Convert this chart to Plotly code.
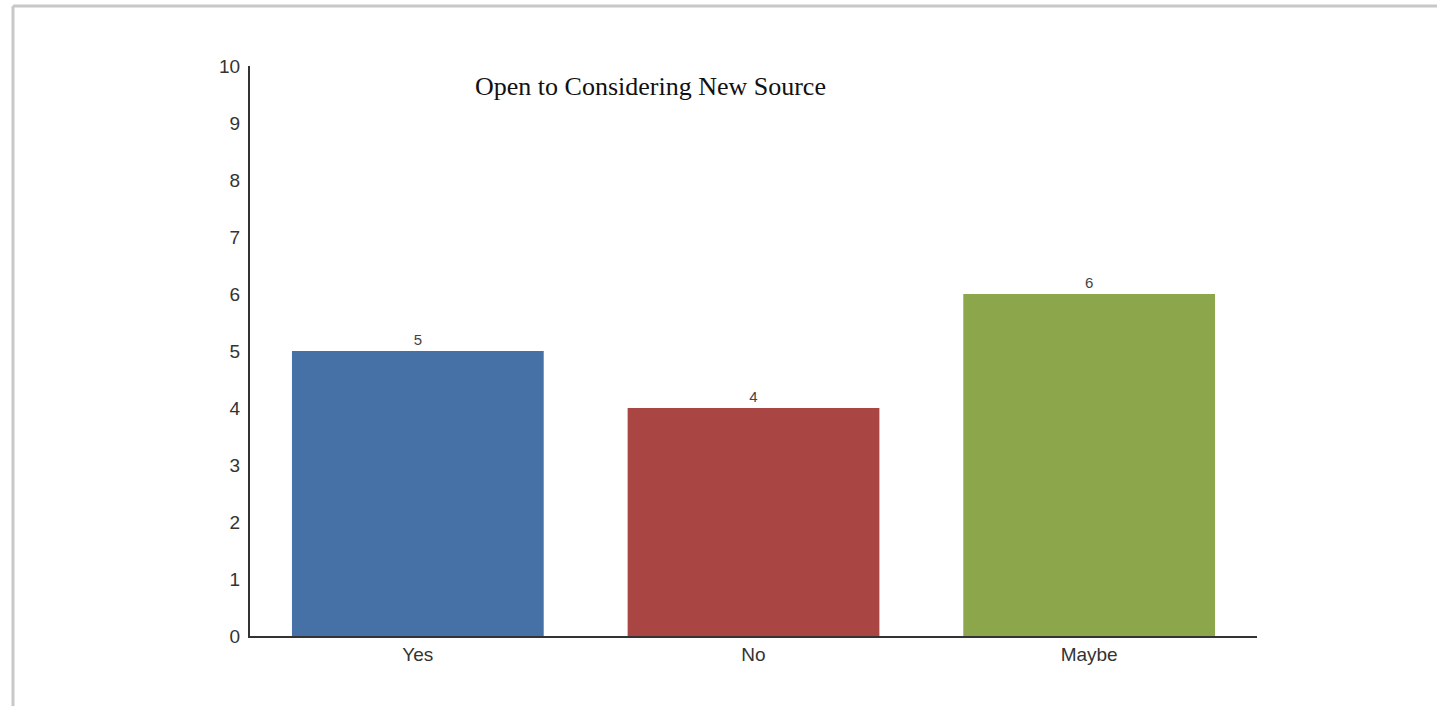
import plotly.graph_objects as go

categories = ["Yes", "No", "Maybe"]
values = [5, 4, 6]
colors = ["#4671a7", "#a94643", "#8ba64b"]
y_ticks = list(range(0, 11))
title_text = "Open to Considering New Source"

W, H = 1437, 706
L, R, T, B = 250, 180, 66, 70
pw, ph = W - L - R, H - T - B

fig = go.Figure(go.Bar(
    x=categories, y=values,
    marker=dict(color=colors, line=dict(width=0)),
    text=[str(v) for v in values], textposition="outside",
    textfont=dict(family="Liberation Sans, Arial", size=15, color="#444"),
    cliponaxis=False,
))

fig.update_layout(
    width=W, height=H,
    margin=dict(l=L, r=R, t=T, b=B, autoexpand=False),
    paper_bgcolor="white", plot_bgcolor="white",
    bargap=0.25, showlegend=False,
    font=dict(family="Liberation Sans, Arial", size=19, color="#333"),
    xaxis=dict(range=[-0.5, 2.5], showline=True, linecolor="#333", linewidth=2,
               ticks="", showgrid=False, zeroline=False,
               tickfont=dict(size=19, color="#333")),
    yaxis=dict(range=[0, 10], tickvals=y_ticks, showline=True, linecolor="#333",
               linewidth=2, ticks="", showgrid=False, zeroline=False,
               tickfont=dict(size=19, color="#333"), ticklabelstandoff=4),
    annotations=[dict(text=title_text, xref="paper", yref="paper",
                      x=(650 - L) / pw, y=1 - (86 - T) / ph,
                      xanchor="center", yanchor="middle", showarrow=False,
                      font=dict(family="Liberation Serif, Times New Roman", size=26, color="#111"))],
    shapes=[
        dict(type="line", xref="paper", yref="paper",
             x0=(13 - L) / pw, x1=(W - L) / pw, y0=1 + (T - 6) / ph, y1=1 + (T - 6) / ph,
             line=dict(color="#c8c8c8", width=3)),
        dict(type="line", xref="paper", yref="paper",
             x0=(13 - L) / pw, x1=(13 - L) / pw, y0=1 + (T - 6) / ph, y1=-B / ph,
             line=dict(color="#c8c8c8", width=3)),
    ],
)

fig.write_html("out.html", config={"displayModeBar": False},
               post_script="document.body.style.margin='0';document.body.style.overflow='hidden';")
